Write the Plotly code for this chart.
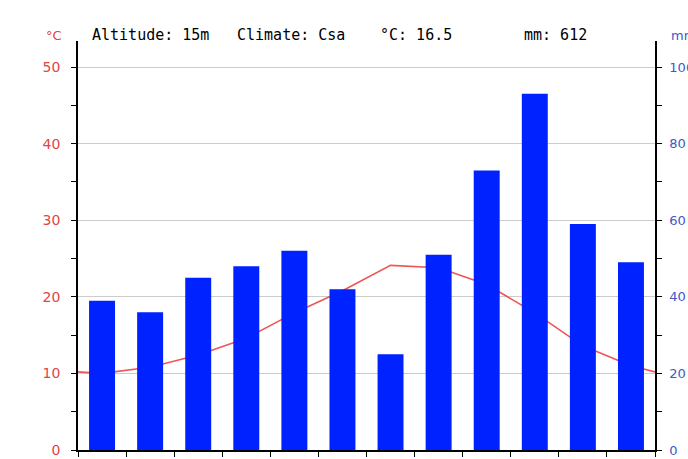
import plotly.graph_objects as go

months = ["Jan", "Feb", "Mar", "Apr", "May", "Jun", "Jul", "Aug", "Sep", "Oct", "Nov", "Dec"]
precip_mm = [39, 36, 45, 48, 52, 42, 25, 51, 73, 93, 59, 49]
temp_c = [10.0, 10.8, 12.4, 14.6, 17.9, 20.8, 24.1, 23.8, 21.6, 17.9, 13.6, 11.0]
temp_edge = [10.2, 10.2]  # line value at the left and right edges of the chart
header = ["Altitude: 15m", "Climate: Csa", "°C: 16.5", "mm: 612"]
header_px = [90, 235, 378, 522]

RED = "#e04545"
BLUE = "#4058c8"

W, H = 688, 459
# plot area in page pixels: x 78..655, y 41..450
L, T = 78, 41
R = W - 655
B = H - 450
plot_w = W - L - R
plot_h = H - T - B

x_pos = list(range(1, 13))

fig = go.Figure()
fig.add_trace(go.Bar(x=x_pos, y=precip_mm, yaxis="y2", width=0.54,
                     marker=dict(color="#0022ff", line=dict(width=0)),
                     showlegend=False, hoverinfo="skip"))
fig.add_trace(go.Scatter(x=[0.5] + x_pos + [12.5],
                         y=[temp_edge[0]] + temp_c + [temp_edge[1]],
                         mode="lines", line=dict(color="#ee5555", width=1.6),
                         showlegend=False, hoverinfo="skip"))

fig.update_layout(
    width=W, height=H,
    margin=dict(l=L, r=R, t=T, b=B, autoexpand=False),
    paper_bgcolor="white", plot_bgcolor="white",
    xaxis=dict(range=[0.5, 12.5], tickvals=[i + 0.5 for i in range(13)],
               showticklabels=False, ticks="outside", ticklen=5, tickcolor="black",
               showline=True, linecolor="black", linewidth=1.5, showgrid=False,
               zeroline=False, automargin=False),
    yaxis=dict(range=[0, 53.4], dtick=10, tick0=0, ticks="outside", ticklen=5,
               tickcolor="black", showline=True, linecolor="black", linewidth=1.5,
               showgrid=True, gridcolor="#cccccc", gridwidth=1, zeroline=False,
               tickfont=dict(family="DejaVu Sans", size=14, color=RED),
               ticklabelstandoff=8, automargin=False,
               minor=dict(dtick=5, tick0=0, ticks="outside", ticklen=5,
                          tickcolor="black", showgrid=False)),
    yaxis2=dict(range=[0, 106.8], dtick=20, tick0=0, overlaying="y", side="right",
                ticks="outside", ticklen=5, tickcolor="black", showline=True,
                linecolor="black", linewidth=1.5, showgrid=False, zeroline=False,
                tickfont=dict(family="DejaVu Sans", size=13, color=BLUE),
                ticklabelstandoff=5, automargin=False,
                minor=dict(dtick=10, tick0=0, ticks="outside", ticklen=5,
                           tickcolor="black", showgrid=False)),
)


def px_to_paper(px, py):
    return (px - L) / plot_w, 1 - (py - T) / plot_h


annotations = []
for txt, xp in zip(header, header_px):
    ax, ay = px_to_paper(xp, 35)
    annotations.append(dict(text=txt, x=ax, y=ay, xref="paper", yref="paper",
                            xanchor="left", yanchor="middle", showarrow=False,
                            font=dict(family="DejaVu Sans Mono", size=15, color="black")))
ax, ay = px_to_paper(54, 35)
annotations.append(dict(text="°C", x=ax, y=ay, xref="paper", yref="paper",
                        xanchor="center", yanchor="middle", showarrow=False,
                        font=dict(family="DejaVu Sans", size=13, color=RED)))
ax, ay = px_to_paper(669, 35)
annotations.append(dict(text="mm", x=ax, y=ay, xref="paper", yref="paper",
                        xanchor="left", yanchor="middle", showarrow=False,
                        font=dict(family="DejaVu Sans", size=13, color=BLUE)))
for xi, m in zip(x_pos, months):
    annotations.append(dict(text=m, x=xi, y=0, xref="x", yref="y", yshift=-6,
                            xanchor="center", yanchor="top", showarrow=False,
                            font=dict(family="DejaVu Sans", size=13, color="#666666")))
fig.update_layout(annotations=annotations)

fig.write_html("out.html",
               config={"displayModeBar": False},
               post_script="document.body.style.margin='0';document.body.style.overflow='hidden';")
